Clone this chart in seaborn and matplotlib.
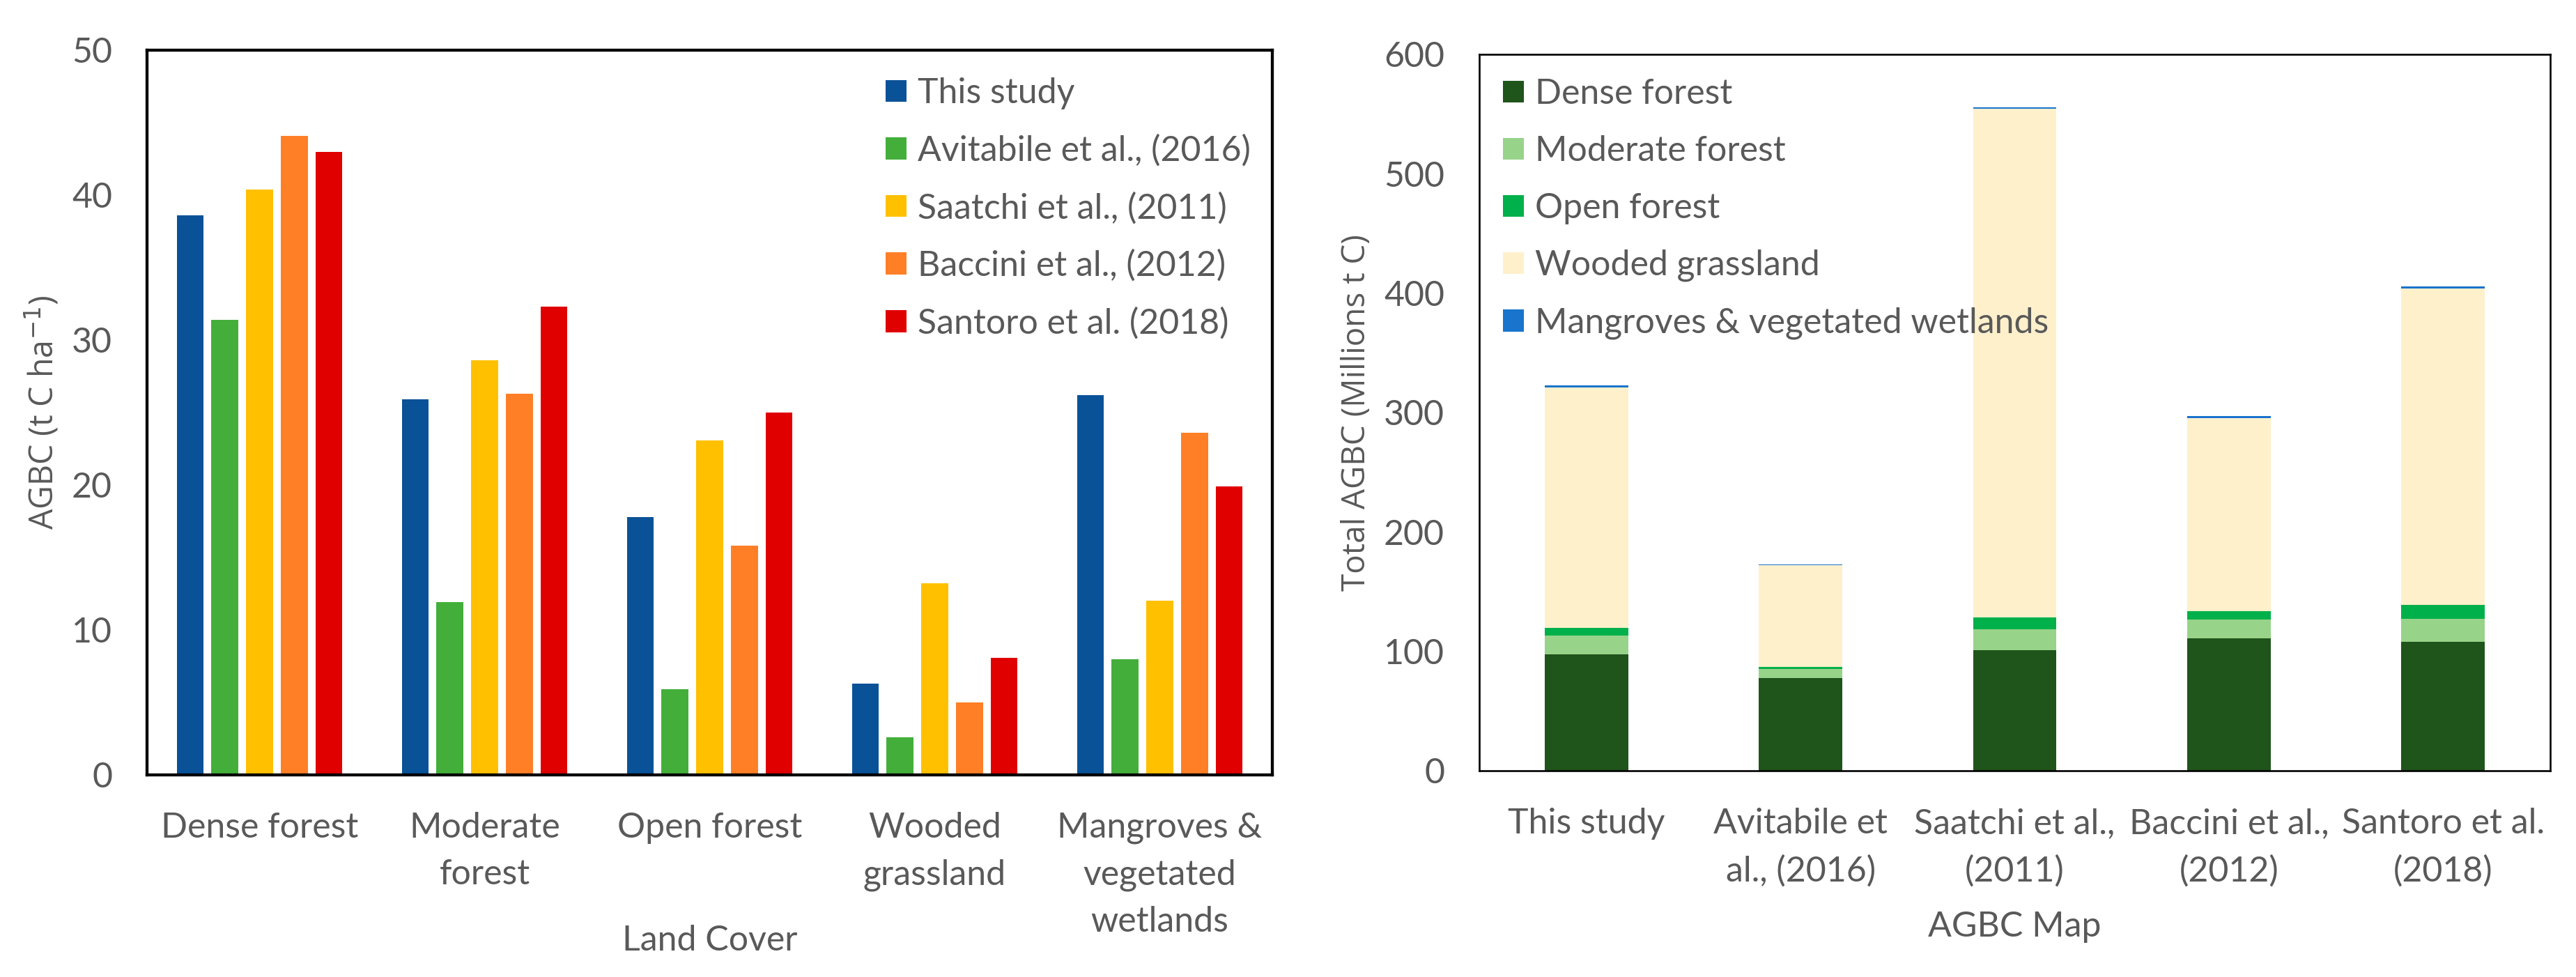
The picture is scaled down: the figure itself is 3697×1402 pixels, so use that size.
import numpy as np
import pandas as pd
import matplotlib
matplotlib.use("Agg")
import matplotlib.pyplot as plt
from matplotlib.patches import Patch
import seaborn as sns

# ---------------- data ----------------
cover_labels = ["Dense forest", "Moderate\nforest", "Open forest",
                "Wooded\ngrassland", "Mangroves &\nvegetated\nwetlands"]
sources = ["This study", "Avitabile et al., (2016)", "Saatchi et al., (2011)",
           "Baccini et al., (2012)", "Santoro et al. (2018)"]
this_study = [38.6, 25.9, 17.8, 6.3, 26.2]
avitabile = [31.4, 11.9, 5.9, 2.6, 8.0]
saatchi = [40.4, 28.6, 23.1, 13.2, 12.0]
baccini = [44.1, 26.3, 15.8, 5.0, 23.6]
santoro = [43.0, 32.3, 25.0, 8.1, 19.9]
source_colors = ["#0A5297", "#43AF3A", "#FFC000", "#FF7F27", "#E00000"]

maps = ["This study", "Avitabile et\nal., (2016)", "Saatchi et al.,\n(2011)",
        "Baccini et al.,\n(2012)", "Santoro et al.\n(2018)"]
class_names = ["Dense forest", "Moderate forest", "Open forest",
               "Wooded grassland", "Mangroves & vegetated wetlands"]
dense = [97.5, 77.6, 101.0, 110.9, 108.0]
moderate = [15.7, 7.6, 17.5, 15.8, 19.2]
open_forest = [6.4, 1.8, 9.9, 7.0, 11.7]
wooded = [201.6, 85.3, 425.8, 161.9, 265.2]
mangroves = [1.8, 0.5, 1.6, 1.5, 1.5]
class_colors = ["#1F541B", "#98D38A", "#00B04A", "#FFF0CC", "#1874CD"]

# ---------------- style ----------------
sns.set_style("white")
TXT = "#595959"
TICKFONT = ["Lato", "DejaVu Sans"]
LABFONT = ["Open Sans", "DejaVu Sans"]
plt.rcParams["font.family"] = TICKFONT
FS = 36

fig = plt.figure(figsize=(36.97, 14.02), dpi=100)
W, H = 3697.0, 1402.0
ax1 = fig.add_axes([211 / W, 1 - 1112 / H, (1826 - 211) / W, (1112 - 72) / H])
ax2 = fig.add_axes([2123 / W, 1 - 1106 / H, (3660 - 2123) / W, (1106 - 78) / H])

# ---------------- left chart ----------------
df1 = pd.DataFrame({
    "cover": np.tile(cover_labels, len(sources)),
    "source": np.repeat(sources, len(cover_labels)),
    "agbc": np.concatenate([this_study, avitabile, saatchi, baccini, santoro]),
})
sns.barplot(data=df1, x="cover", y="agbc", hue="source", order=cover_labels,
            hue_order=sources, palette=source_colors, width=0.77, gap=0.22,
            saturation=1, errorbar=None, linewidth=0, legend=False, ax=ax1)
ax1.set_ylim(0, 50)
ax1.set_xlim(-0.5, 4.5)
ax1.set_yticks(range(0, 51, 10))

# ---------------- right chart ----------------
layers = [dense, moderate, open_forest, wooded, mangroves]
bottom = np.zeros(len(maps))
for vals, col in zip(layers, class_colors):
    sns.barplot(x=maps, y=vals, bottom=bottom.copy(), color=col, width=0.39,
                saturation=1, errorbar=None, linewidth=0, ax=ax2)
    bottom = bottom + np.asarray(vals)
ax2.set_ylim(0, 600)
ax2.set_xlim(-0.5, 4.5)
ax2.set_yticks(range(0, 601, 100))

# ---------------- common axis styling ----------------
for ax, lw in ((ax1, 3.1), (ax2, 1.9)):
    for sp in ax.spines.values():
        sp.set_visible(True)
        sp.set_color("black")
        sp.set_linewidth(lw)
    ax.tick_params(axis="both", length=0, colors=TXT, labelsize=FS)
    ax.tick_params(axis="y", pad=36)
    ax.tick_params(axis="x", pad=38)
    for lab in ax.get_xticklabels() + ax.get_yticklabels():
        lab.set_fontfamily(TICKFONT)
        lab.set_color(TXT)
    for lab in ax.get_xticklabels():
        lab.set_linespacing(1.58)
    ax.grid(False)

ax1.set_xlabel("Land Cover", fontsize=FS, color=TXT, family=TICKFONT, va="center")
ax1.xaxis.set_label_coords(0.5, -0.229)
ax1.set_ylabel("AGBC (t C ha$^{-1}$)", fontsize=33.5, color=TXT, family=LABFONT, va="center")
ax1.yaxis.set_label_coords(-0.0935, 0.5)

ax2.set_xlabel("AGBC Map", fontsize=FS, color=TXT, family=TICKFONT, va="center")
ax2.xaxis.set_label_coords(0.5, -0.218)
ax2.set_ylabel("Total AGBC (Millions t C)", fontsize=33, color=TXT, family=LABFONT, va="center")
ax2.yaxis.set_label_coords(-0.1145, 0.5)

# ---------------- legends ----------------
leg_kw = dict(loc="upper left", bbox_transform=fig.transFigure, frameon=False,
              handlelength=0.6, handleheight=0.6, handletextpad=0.32,
              labelspacing=0.72, borderpad=0, borderaxespad=0,
              prop={"family": TICKFONT, "size": FS})

h1 = [Patch(facecolor=c, edgecolor="none") for c in source_colors]
leg1 = ax1.legend(h1, sources, bbox_to_anchor=(1271 / W, 1 - 111 / H), **leg_kw)
for t in leg1.get_texts():
    t.set_color(TXT)

h2 = [Patch(facecolor=c, edgecolor="none") for c in class_colors]
leg2 = ax2.legend(h2, class_names, bbox_to_anchor=(2157 / W, 1 - 112 / H), **leg_kw)
for t in leg2.get_texts():
    t.set_color(TXT)

fig.savefig("out.png", dpi=100, facecolor="white")
